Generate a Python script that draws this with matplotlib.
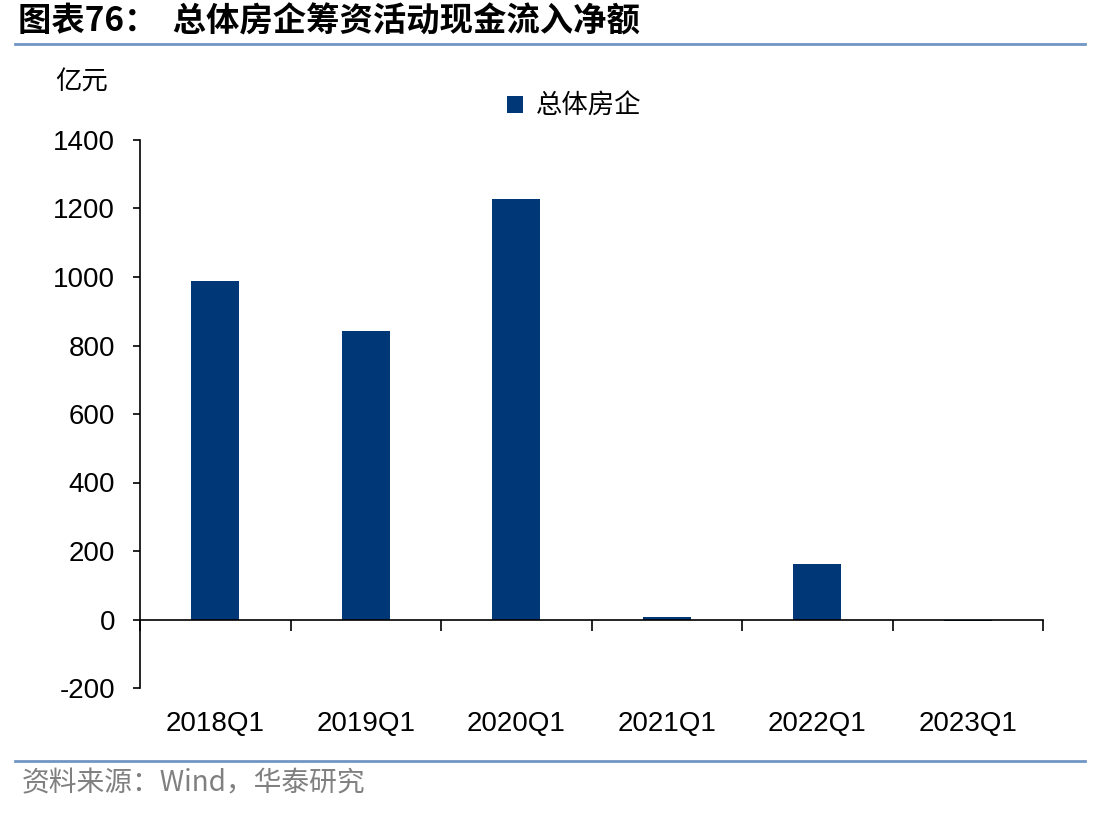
import matplotlib.pyplot as plt
import numpy as np

plt.rcParams['font.family'] = ['Noto Sans CJK SC', 'DejaVu Sans']
plt.rcParams['axes.unicode_minus'] = False

# 数据
quarters = ['2018Q1', '2019Q1', '2020Q1', '2021Q1', '2022Q1', '2023Q1']
values = [989, 843, 1228, 6, 163, -3]

fig = plt.figure(figsize=(11.12, 8.16), dpi=100)
ax = fig.add_axes([140/1112, 1-688/816, (1043-140)/1112, (688-140)/816])

x = np.arange(len(quarters))
ax.bar(x, values, width=0.32, color='#003777', label='总体房企', zorder=2)

ax.set_xlim(-0.5, 5.5)
ax.set_ylim(-200, 1400)
ax.set_yticks(range(-200, 1401, 200))
ax.set_yticklabels([str(v) for v in range(-200, 1401, 200)])
ax.tick_params(axis='y', labelsize=20, length=5, width=1.2, pad=13)
for lab in ax.get_yticklabels():
    lab.set_family(['Liberation Sans'])

# x轴放在0处
ax.spines['top'].set_visible(False)
ax.spines['right'].set_visible(False)
ax.spines['bottom'].set_position(('data', 0))
ax.spines['left'].set_linewidth(1.2)
ax.spines['bottom'].set_linewidth(1.2)
ax.set_xticks(np.arange(-0.5, 6, 1))
ax.set_xticklabels([])
ax.tick_params(axis='x', direction='out', length=8, width=1.2)
for i, q in enumerate(quarters):
    ax.text(i, -305, q, ha='center', va='center', fontsize=20,
            family=['Liberation Sans'])

leg = ax.legend(loc='center', bbox_to_anchor=(0.5 - 17/903, 1.0 + (140-106)/548),
                frameon=False, fontsize=19, handlelength=0.6, handleheight=0.6,
                handletextpad=0.5)

fig.text(55/1112, 1-82/816, '亿元', fontsize=19, ha='left', va='center')

# 标题和线
fig.text(18/1112, 1-22/816, '图表76：  总体房企筹资活动现金流入净额', fontsize=24,
         fontweight='bold', ha='left', va='center')
fig.add_artist(plt.Line2D([15/1112, 1085/1112], [1-44/816, 1-44/816],
                          color='#7196c4', lw=2))
fig.add_artist(plt.Line2D([15/1112, 1085/1112], [1-761/816, 1-761/816],
                          color='#7196c4', lw=2))
fig.text(22/1112, 1-783/816, '资料来源：Wind，华泰研究', fontsize=20,
         color='#808080', ha='left', va='center')

plt.savefig('out.png', dpi=100)
